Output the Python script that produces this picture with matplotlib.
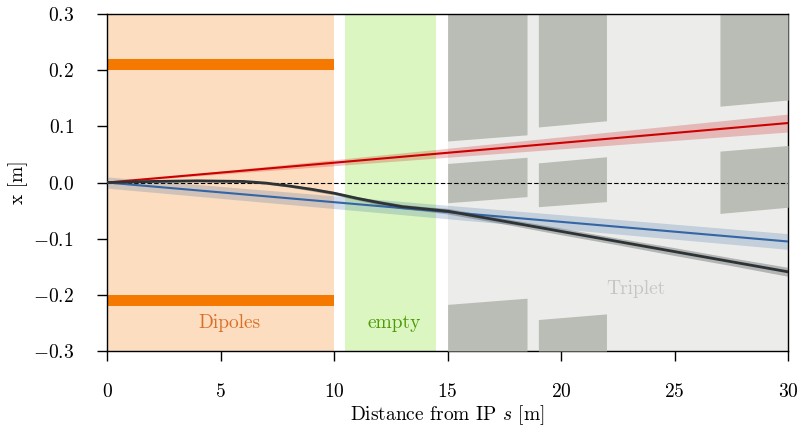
import numpy as np
import matplotlib
matplotlib.use('Agg')
import matplotlib.pyplot as plt

plt.rcParams['font.family'] = 'serif'
plt.rcParams['font.serif'] = ['cmr10', 'DejaVu Serif']
plt.rcParams['mathtext.fontset'] = 'cm'
plt.rcParams['axes.formatter.use_mathtext'] = True
plt.rcParams['font.size'] = 14

# element regions along s [m]
dipole_s = [0, 10]
empty_s = [10.5, 14.5]
triplet_s = [15, 30]
dipole_x = [0.20, 0.22]          # dipole bar |x| range

# triplet magnets: s start/end, then edges at start/end (top inner, mid top, mid bottom, bottom inner)
mag_s0 = [15.0, 19.0, 27.0]
mag_s1 = [18.5, 22.0, 30.0]
mag_top0 = [0.074, 0.099, 0.136]
mag_top1 = [0.085, 0.110, 0.147]
mag_midtop0 = [0.034, 0.035, 0.056]
mag_midtop1 = [0.045, 0.046, 0.066]
mag_midbot0 = [-0.036, -0.043, -0.055]
mag_midbot1 = [-0.025, -0.034, -0.044]
mag_bot0 = [-0.217, -0.244, None]
mag_bot1 = [-0.206, -0.234, None]

# beam trajectories
s_lin = [0, 30]
red_x = [0, 0.106]
red_w = [0.0, 0.016]
blue_x = [0, -0.105]
blue_w = [0.010, 0.014]

s_black = [0, 2, 4, 6, 7, 8, 9, 10, 11, 12, 13, 14, 15, 17.5, 20, 22.5, 25, 27.5, 30]
black_x = [0, 0.002, 0.003, 0.002, -0.001, -0.006, -0.012, -0.019, -0.028, -0.036,
           -0.043, -0.047, -0.051, -0.069, -0.087, -0.105, -0.123, -0.141, -0.159]
black_w = [0, 0.001, 0.001, 0.002, 0.002, 0.002, 0.003, 0.003, 0.003, 0.004,
           0.004, 0.004, 0.005, 0.005, 0.006, 0.006, 0.007, 0.007, 0.008]

fig = plt.figure(figsize=(8, 4.28), dpi=100)
ax = fig.add_axes([0.134, 0.18, 0.851, 0.787])

ax.axvspan(*dipole_s, color='#f57900', alpha=0.25, lw=0, zorder=0)
ax.axvspan(*empty_s, color='#8ae234', alpha=0.3, lw=0, zorder=0)
ax.axvspan(*triplet_s, color='#babdb6', alpha=0.27, lw=0, zorder=0)

ax.fill_between(dipole_s, dipole_x[0], dipole_x[1], color='#f57900', lw=0, zorder=1)
ax.fill_between(dipole_s, -dipole_x[1], -dipole_x[0], color='#f57900', lw=0, zorder=1)

grey = '#babdb6'
for i in range(len(mag_s0)):
    ss = [mag_s0[i], mag_s1[i]]
    ax.fill_between(ss, [mag_top0[i], mag_top1[i]], 0.3, color=grey, lw=0, zorder=3)
    ax.fill_between(ss, [mag_midbot0[i], mag_midbot1[i]], [mag_midtop0[i], mag_midtop1[i]],
                    color=grey, lw=0, zorder=3)
    if mag_bot0[i] is not None:
        ax.fill_between(ss, -0.3, [mag_bot0[i], mag_bot1[i]], color=grey, lw=0, zorder=3)

ax.axhline(0, color='black', ls='--', lw=0.8, dashes=(4, 2), zorder=4)

s = np.array(s_lin, dtype=float)
r = np.array(red_x)
rw = np.array(red_w)
ax.fill_between(s, r - rw, r + rw, color='#cc0000', alpha=0.22, lw=0, zorder=4)
ax.plot(s, r, color='#cc0000', lw=1.5, zorder=5)

b = np.array(blue_x)
bw = np.array(blue_w)
ax.fill_between(s, b - bw, b + bw, color='#3465a4', alpha=0.22, lw=0, zorder=4)
ax.plot(s, b, color='#3465a4', lw=1.5, zorder=5)

sb = np.array(s_black)
k = np.array(black_x)
kw = np.array(black_w)
ax.fill_between(sb, k - kw, k + kw, color='#2e3436', alpha=0.3, lw=0, zorder=4)
ax.plot(sb, k, color='#2e3436', lw=2, zorder=5)

ax.text(5.4, -0.251, 'Dipoles', color='#d9702a', ha='center', va='center')
ax.text(12.65, -0.251, 'empty', color='#4e9a06', ha='center', va='center')
ax.text(23.3, -0.19, 'Triplet', color='#c6c6c4', ha='center', va='center')

ax.set_xlim(0, 30)
ax.set_ylim(-0.3, 0.3)
ax.set_xticks([0, 5, 10, 15, 20, 25, 30])
ax.set_yticks([-0.3, -0.2, -0.1, 0.0, 0.1, 0.2, 0.3])
ax.yaxis.set_major_formatter(matplotlib.ticker.FormatStrFormatter('$%.1f$'))
ax.set_xlabel('Distance from IP $s$ [m]', labelpad=2)
ax.set_ylabel('x [m]', labelpad=3)
ax.tick_params(direction='out', length=7, width=1, top=False, right=False)
ax.tick_params(axis='x', pad=16)
ax.tick_params(axis='y', pad=17)
for sp in ax.spines.values():
    sp.set_linewidth(1)
ax.spines['top'].set_zorder(6)
ax.spines['right'].set_zorder(2.5)

fig.savefig('out.png', dpi=100)
